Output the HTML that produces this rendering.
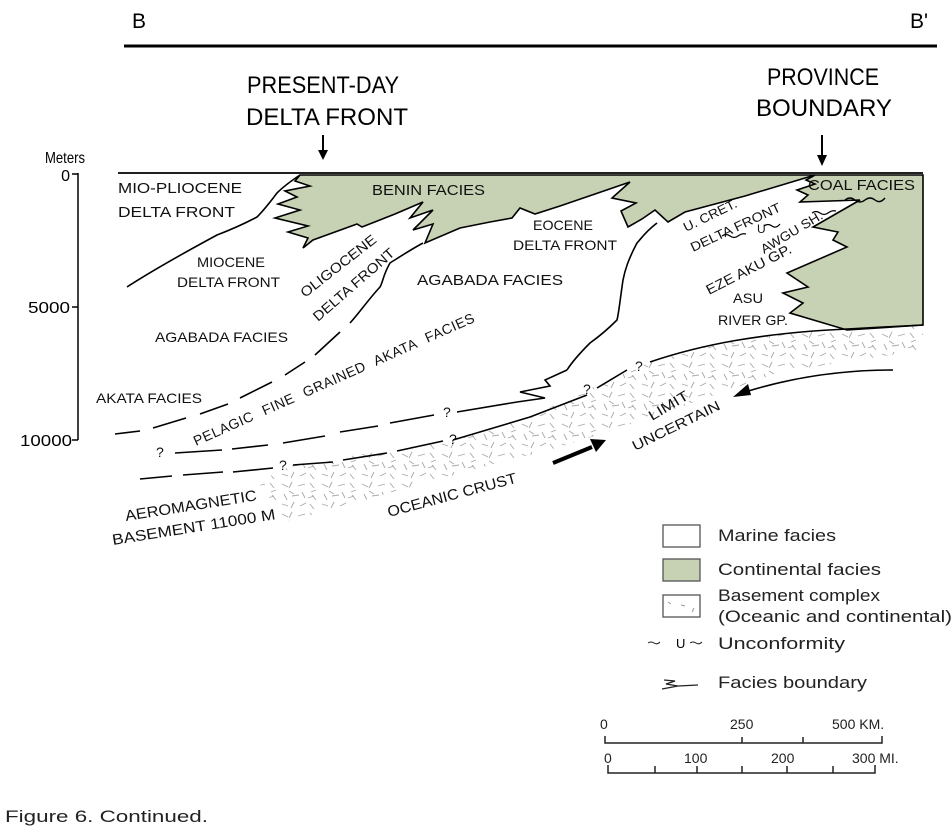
<!DOCTYPE html>
<html><head><meta charset="utf-8"><style>
html,body{margin:0;padding:0;background:#fff;}
svg{display:block;font-family:"Liberation Sans",sans-serif;}
</style></head><body>
<svg width="952" height="831" viewBox="0 0 952 831" xmlns="http://www.w3.org/2000/svg">
<defs>
<pattern id="bs" width="40" height="30" patternUnits="userSpaceOnUse">
<g stroke="#a8a8a8" stroke-width="0.9" fill="none">
<path d="M2 4l6 3M12 2l-3 6M18 6l7-2M30 3l4 5M36 10l-5 2M4 14l3 6M12 16l7-1M22 12l3 6M28 18l6-2M2 24l6 2M14 22l-3 6M20 26l6-3M30 24l4 5M36 20l-4-5M9 11l5 3"/>
</g></pattern>
</defs>

<!-- header -->
<text x="132" y="28" font-size="21">B</text>
<text x="910" y="28" font-size="21">B'</text>
<line x1="124" y1="46" x2="937" y2="46" stroke="#000" stroke-width="3"/>
<text x="323" y="93" font-size="24" text-anchor="middle" textLength="152" lengthAdjust="spacingAndGlyphs">PRESENT-DAY</text>
<text x="327" y="125" font-size="24" text-anchor="middle" textLength="162" lengthAdjust="spacingAndGlyphs">DELTA FRONT</text>
<text x="823" y="85" font-size="24" text-anchor="middle" textLength="112" lengthAdjust="spacingAndGlyphs">PROVINCE</text>
<text x="824" y="116" font-size="24" text-anchor="middle" textLength="136" lengthAdjust="spacingAndGlyphs">BOUNDARY</text>
<line x1="323" y1="135" x2="323" y2="152" stroke="#000" stroke-width="2"/>
<path d="M318 150h10l-5 10z"/>
<line x1="822" y1="135" x2="822" y2="157" stroke="#000" stroke-width="2"/>
<path d="M817 155h10l-5 11z"/>

<!-- axis -->
<text x="45" y="163" font-size="16" textLength="40" lengthAdjust="spacingAndGlyphs">Meters</text>
<text x="70" y="181" font-size="16" text-anchor="end">0</text>
<text x="70" y="313" font-size="16" text-anchor="end" textLength="42" lengthAdjust="spacingAndGlyphs">5000</text>
<text x="72" y="446" font-size="16" text-anchor="end" textLength="52" lengthAdjust="spacingAndGlyphs">10000</text>
<line x1="78" y1="173" x2="78" y2="440" stroke="#000" stroke-width="1.5"/>
<path d="M72 174h6M72 307h6M72 440h6" stroke="#000" stroke-width="1.5"/>

<!-- basement -->
<path d="M258 482 L293 465 L453 440 L530 417 L587 390 L650 362 C700 345 760 333 847 329 L923 325 L923 350 L780 372 L650 418 L560 447 L483 467 L400 490 L287 522 Z" fill="url(#bs)"/>

<!-- green -->
<g fill="#c7d1b3" stroke="#000" stroke-width="1.6" stroke-linejoin="miter">
<path d="M300 175 L815 175 L745 196 L685 212 L668 222 L655 210 L642 219 L628 227 L621 211 L636 203 L612 198 L630 182 L595 194 L560 206 L535 214 L520 208 L512 218 L490 222 L460 228 L425 243 L433 224 L413 230 L433 210 L410 218 L423 202 L395 214 L362 227 L357 224 L313 240 L303 248 L308 238 L288 232 L308 226 L275 218 L300 210 L278 204 L297 197 L285 191 L310 186 L295 181 Z"/>
<path d="M815 175 L923 175 L923 325 L847 330 L790 313 L803 303 L783 293 L808 287 L787 273 L847 247 L833 240 L838 232 L813 227 L860 200 L800 202 L808 195 L797 190 L815 184 L806 180 Z"/>
</g>
<path d="M845 200 q5 -4 10 0 t10 0 t10 0 t10 -2" fill="none" stroke="#000" stroke-width="1.4"/>
<line x1="118" y1="173" x2="923" y2="173" stroke="#000" stroke-width="1.8"/>

<!-- lines -->
<g fill="none" stroke="#000" stroke-width="1.6">
<path d="M300 175 C285 185 280 190 277 193 C268 205 262 212 257 217 C240 226 230 230 217 235 C180 255 150 272 127 287"/>
<path d="M423 243 C410 250 398 258 390 263 C383 275 383 282 380 287 C368 300 360 312 350 323"/>
<path d="M340 332 L315 355 M305 362 L285 375 M272 382 L240 398 M228 404 L200 414 M186 418 L153 428 M140 431 L115 434"/>
<path d="M657 223 C645 232 640 240 637 243 C628 260 625 270 623 280 C620 300 619 312 617 320 C605 332 597 338 590 343 C578 355 572 362 567 370"/>
<path d="M567 370 L545 380 L550 386 L520 392 L545 398 L517 402 L457 412"/>
<path d="M434 415 L390 423 M378 426 L340 432 M325 436 L283 443 M268 445 L232 449 M222 450 L175 453"/>
<path d="M530 417 L587 395 M597 388 L627 370"/>
<path d="M650 362 C700 345 760 333 847 329 L923 325"/>
<path d="M453 440 L530 417"/>
<path d="M443 441 L397 451 M387 453 L343 460 M333 462 L293 465 M273 468 L233 472 M223 472 L183 475 M172 476 L140 479"/>
<path d="M893 370 C840 370 790 378 745 392"/>
<path d="M553 463 L592 447" stroke-width="4"/>
<path d="M812 213 q4 -3 8 0 t8 0 t8 -2" stroke-width="1.2"/>
<path d="M722 236 q4 -3 8 0 t8 0 t8 -2 M764 226 q4 -3 8 0 t8 -2" stroke-width="1.2"/>
</g>
<path d="M733 397 L748 384 L751 395 Z"/>
<path d="M606 440 L590 439 L596 452 Z"/>

<!-- labels -->
<g font-size="15" fill="#111" lengthAdjust="spacingAndGlyphs">
<text x="118" y="193" textLength="124" lengthAdjust="spacingAndGlyphs">MIO-PLIOCENE</text>
<text x="118" y="217" textLength="117" lengthAdjust="spacingAndGlyphs">DELTA FRONT</text>
<text x="372" y="195" textLength="113" lengthAdjust="spacingAndGlyphs">BENIN FACIES</text>
<text x="197" y="267" font-size="14" textLength="68" lengthAdjust="spacingAndGlyphs">MIOCENE</text>
<text x="177" y="287" font-size="14" textLength="103" lengthAdjust="spacingAndGlyphs">DELTA FRONT</text>
<text x="155" y="342" font-size="14" textLength="133" lengthAdjust="spacingAndGlyphs">AGABADA FACIES</text>
<text x="96" y="403" font-size="14" textLength="106" lengthAdjust="spacingAndGlyphs">AKATA FACIES</text>
<text x="417" y="285" textLength="146" lengthAdjust="spacingAndGlyphs">AGABADA FACIES</text>
<text x="533" y="230" font-size="14" textLength="60" lengthAdjust="spacingAndGlyphs">EOCENE</text>
<text x="513" y="250" font-size="14" textLength="104" lengthAdjust="spacingAndGlyphs">DELTA FRONT</text>
<text x="808" y="190" textLength="107" lengthAdjust="spacingAndGlyphs">COAL FACIES</text>
<text x="733" y="303" font-size="14" textLength="30" lengthAdjust="spacingAndGlyphs">ASU</text>
<text x="718" y="325" font-size="14" textLength="70" lengthAdjust="spacingAndGlyphs">RIVER GP.</text>
<text transform="translate(305,298) rotate(-38)" font-size="14" textLength="92" lengthAdjust="spacingAndGlyphs">OLIGOCENE</text>
<text transform="translate(318,322) rotate(-41)" font-size="14" textLength="103" lengthAdjust="spacingAndGlyphs">DELTA FRONT</text>
<text transform="translate(196,446) rotate(-24)" font-size="14" textLength="306" lengthAdjust="spacing" word-spacing="6">PELAGIC FINE GRAINED AKATA FACIES</text>
<text transform="translate(686,232) rotate(-26)" font-size="13" textLength="58" lengthAdjust="spacingAndGlyphs">U. CRET.</text>
<text transform="translate(693,252) rotate(-25)" font-size="13" textLength="98" lengthAdjust="spacingAndGlyphs">DELTA FRONT</text>
<text x="757" y="233" font-size="12">U</text>
<text transform="translate(764,254) rotate(-31)" font-size="13" textLength="70" lengthAdjust="spacingAndGlyphs">AWGU SH.</text>
<text transform="translate(709,295) rotate(-27)" font-size="14" textLength="94" lengthAdjust="spacingAndGlyphs">EZE AKU GP.</text>
<text transform="translate(652,421) rotate(-31)" font-size="14" textLength="44" lengthAdjust="spacingAndGlyphs">LIMIT</text>
<text transform="translate(635,451) rotate(-26)" font-size="14" textLength="96" lengthAdjust="spacingAndGlyphs">UNCERTAIN</text>
<text transform="translate(389,517) rotate(-15)" textLength="133" lengthAdjust="spacingAndGlyphs">OCEANIC CRUST</text>
<text transform="translate(126,521) rotate(-9)" textLength="133" lengthAdjust="spacingAndGlyphs">AEROMAGNETIC</text>
<text transform="translate(113,545) rotate(-9)" textLength="165" lengthAdjust="spacingAndGlyphs">BASEMENT 11000 M</text>
<g font-size="14"><text x="156" y="457">?</text><text x="279" y="470">?</text><text x="443" y="417">?</text><text x="449" y="444">?</text><text x="583" y="394">?</text><text x="635" y="371">?</text></g>
</g>

<!-- legend -->
<g stroke="#555" stroke-width="1.3">
<rect x="663" y="525" width="37" height="22" fill="#fff"/>
<rect x="663" y="559" width="37" height="22" fill="#c7d1b3"/>
<rect x="663" y="595" width="37" height="22" fill="#fff"/>
</g>
<path d="M668 602l3 2M681 605l4 1M694 608l-2 4" stroke="#999"/>
<g font-size="17" fill="#222">
<text x="718" y="541" textLength="118" lengthAdjust="spacingAndGlyphs">Marine facies</text>
<text x="718" y="575" textLength="163" lengthAdjust="spacingAndGlyphs">Continental facies</text>
<text x="718" y="601" textLength="162" lengthAdjust="spacingAndGlyphs">Basement complex</text>
<text x="718" y="622" textLength="234" lengthAdjust="spacingAndGlyphs">(Oceanic and continental)</text>
<text x="718" y="649" textLength="127" lengthAdjust="spacingAndGlyphs">Unconformity</text>
<text x="718" y="688" textLength="149" lengthAdjust="spacingAndGlyphs">Facies boundary</text>
</g>
<text x="676" y="648" font-size="13">U</text>
<path d="M648 643 q3 -2 6 0 t6 -1 M690 643 q3 -2 6 0 t6 -1" stroke="#222" fill="none"/>
<path d="M664 680 L675 681 L666 684 L678 686 L662 689 M678 686 L698 685" stroke="#222" fill="none" stroke-width="1.3"/>

<!-- scale -->
<g font-size="14" fill="#222">
<text x="600" y="729">0</text><text x="730" y="729">250</text><text x="832" y="729">500 KM.</text>
<text x="604" y="763">0</text><text x="684" y="763">100</text><text x="771" y="763">200</text><text x="852" y="763">300 MI.</text>
</g>
<g stroke="#222" stroke-width="1.5" fill="none">
<path d="M605 736V743H882V736M742 737V743M803 737V743"/>
<path d="M608 765V773H875V765M655 766V773M697 766V773M742 766V773M787 766V773M833 766V773"/>
</g>

<text x="5" y="822" font-size="17" fill="#222" textLength="203" lengthAdjust="spacingAndGlyphs">Figure 6. Continued.</text>
</svg>
</body></html>
